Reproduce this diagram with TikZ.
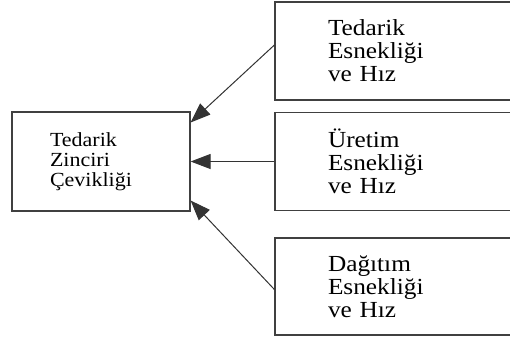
\documentclass[tikz,border=0pt]{standalone}
\usepackage{fontspec}
\setmainfont{Liberation Serif}[FakeStretch=1.1]
\usetikzlibrary{arrows.meta}

\begin{document}
\begin{tikzpicture}[x=1pt,y=1pt,line width=1.2pt,draw=black!80,
  box/.style={draw=black!75,rectangle,align=left,inner ysep=0pt},
  chainbox/.style={box,minimum width=178,minimum height=99,inner xsep=38,
    text width=102,font=\fontsize{20}{20}\selectfont},
  partbox/.style={box,minimum width=240,minimum height=98,inner xsep=53,
    text width=134,font=\fontsize{23}{23}\selectfont},
  arr/.style={-{Triangle[length=20pt,width=15pt]},draw=black!80,line width=1pt}]
\useasboundingbox (0,0) rectangle (510,341);
\node[chainbox] (chain) at (101,179.5) {Tedarik\\Zinciri\\Çevikliği};
\node[partbox] (supply) at (395,290) {Tedarik\\Esnekliği\\ve Hız};
\node[partbox] (prod) at (395,179.5) {Üretim\\Esnekliği\\ve Hız};
\node[partbox,minimum height=97] (dist) at (395,54.5) {Dağıtım\\Esnekliği\\ve Hız};
% arrows
\draw[arr] ([yshift=6pt]supply.west) -- ([yshift=39pt]chain.east);
\draw[arr] (prod.west) -- (chain.east);
\draw[arr] ([yshift=-3pt]dist.west) -- ([yshift=-39pt]chain.east);
\end{tikzpicture}
\end{document}
